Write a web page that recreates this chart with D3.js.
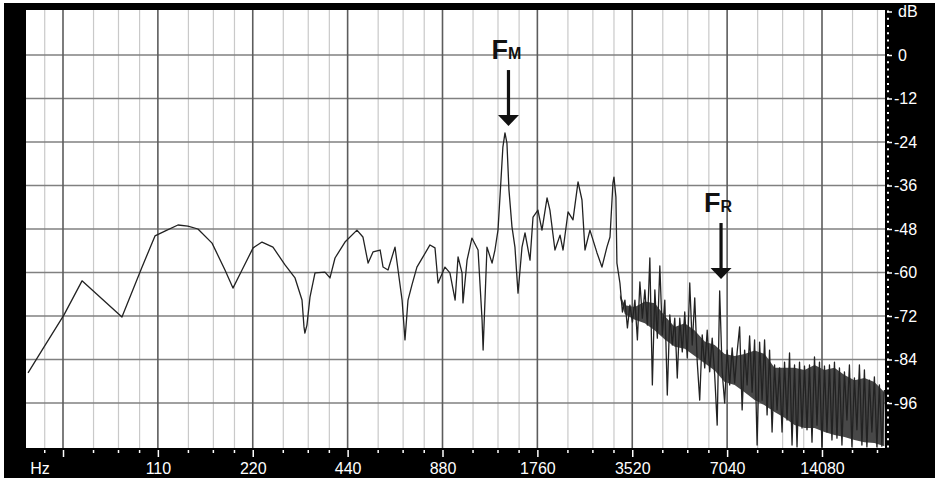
<!DOCTYPE html>
<html>
<head>
<meta charset="utf-8">
<title>Spectrum</title>
<script src="https://cdnjs.cloudflare.com/ajax/libs/d3/7.8.5/d3.min.js"></script>
<style>
  body { margin: 0; background: #fff; }
  svg { display: block; }
  .axis text { fill: #fff; font-family: "Liberation Sans", Arial, sans-serif; font-size: 16px; }
  .axis line { stroke: #fff; stroke-width: 1.5; }
  .axis path { display: none; }
  .note { font-family: "Liberation Sans", Arial, sans-serif; font-weight: bold; fill: #111; }
</style>
</head>
<body>
<div id="chart"></div>
<script>
// spectrum trace up to ~3 kHz (Hz, dB)
const freqHz = [42.6, 47.2, 55.4, 63.2, 84.6, 98, 107.7, 115.8, 127.4, 137, 147.4, 163.4, 179.6, 190.4, 203.4,
  220.6, 235.4, 255, 278.5, 299.6, 315.3, 319.9, 322, 326.9, 334.2, 346.7, 372.9, 386.8, 401.3, 431.6,
  471, 492, 511, 530, 558, 570, 591, 622, 636, 655, 669, 684, 704, 730, 763, 803, 833, 852,
  896, 929, 965, 986, 1015, 1022, 1053, 1091, 1141, 1175, 1184, 1218, 1264, 1291, 1320, 1349, 1368, 1389,
  1409, 1430, 1462, 1494, 1528, 1573, 1608, 1668, 1705, 1767, 1820, 1889, 1929, 2001, 2077, 2123, 2202,
  2283, 2369, 2438, 2492, 2584, 2721, 2821, 2925, 2992, 3057, 3080, 3124, 3147];
const levelDb = [-87.7, -81.4, -71.7, -62.3, -72.3, -58.5, -49.9, -48.6, -46.9, -47.2, -48.0, -51.9, -59.3, -64.3, -59.3,
  -53.2, -51.6, -53.0, -57.9, -61.5, -67.6, -75.0, -76.7, -74.5, -66.8, -60.1, -59.9, -61.5, -56.0, -51.6,
  -48.3, -50.2, -57.4, -54.3, -53.8, -58.5, -59.3, -53.0, -59.3, -67.6, -78.6, -67.6, -63.4, -58.5, -55.7, -52.4, -53.2, -62.9,
  -58.5, -60.1, -67.6, -55.7, -60.1, -68.4, -56.6, -50.5, -53.8, -73.1, -81.4, -53.0, -57.4, -53.8, -48.3, -34.5, -25.4, -21.5,
  -24.3, -37.2, -47.4, -53.0, -65.7, -53.0, -49.1, -56.6, -44.7, -42.8, -48.3, -39.4, -42.8, -53.8, -49.7, -53.8, -43.3,
  -45.5, -35.0, -40.0, -53.8, -48.3, -54.6, -58.5, -53.0, -50.2, -35.3, -33.7, -39.2, -57.4];

// noisy part above ~3.2 kHz, crest and trough of each wiggle
const denseHz = [3217, 3276, 3336, 3398, 3460, 3524, 3589, 3655, 3722, 3790, 3860, 3931, 4003, 4077, 4152,
  4228, 4306, 4385, 4465, 4547, 4631, 4716, 4803, 4891, 4981, 5073, 5166, 5261, 5358, 5456, 5557, 5659,
  5763, 5869, 5977, 6087, 6199, 6313, 6429, 6547, 6667, 6790, 6915, 7042, 7172, 7304, 7438, 7575, 7714,
  7856, 8000, 8147, 8297, 8450, 8605, 8764, 8925, 9089, 9256, 9427, 9600, 9777, 9957, 10140, 10326,
  10516, 10710, 10907, 11107, 11312, 11520, 11732, 11948, 12167, 12391, 12619, 12851, 13088, 13329,
  13574, 13824, 14078, 14337, 14601, 14870, 15143, 15422, 15706, 15995, 16289, 16589, 16894, 17205,
  17521, 17844, 18172, 18506, 18847, 19194, 19547, 19907, 20273, 20646, 21026, 21413, 21807, 22208];
const denseDb = [-62.9, -70.9, -67.6, -75.3, -69.0, -73.7, -67.6, -78.6, -62.6, -72.6, -64.8, -74.5, -56.0, -91.0, -64.8,
  -78.1, -58.2, -77.2, -67.6, -93.8, -71.7, -80.0, -72.6, -89.1, -72.6, -81.9, -70.9, -83.6, -62.9, -80.0, -67.0, -84.7,
  -95.2, -77.2, -86.3, -75.9, -87.4, -78.1, -88.3, -102.1, -65.1, -87.4, -96.0, -81.4, -91.0, -80.8, -90.5, -81.9, -75.0,
  -97.9, -81.4, -91.0, -77.5, -93.0, -78.6, -107.6, -79.2, -95.2, -78.6, -99.3, -81.4, -104.0, -85.5, -97.9, -86.3,
  -104.0, -84.7, -100.7, -82.2, -107.6, -85.5, -108.1, -84.7, -102.9, -85.8, -103.4, -85.5, -106.8, -83.3,
  -102.1, -84.7, -108.1, -85.8, -104.0, -85.5, -106.2, -84.7, -105.7, -86.3, -107.6, -87.4, -100.7, -85.5,
  -108.1, -89.1, -103.4, -85.5, -107.6, -86.9, -108.1, -89.7, -104.0, -88.8, -108.1, -91.0, -107.9, -92.4];

// dark mass inside the noisy part: upper and lower edge
const bandHz = [3217, 3336, 3589, 3860, 4152, 4465, 4803, 5166, 5557, 5977, 6429, 6915, 7438, 8000,
  8605, 9256, 9957, 10710, 11520, 12391, 13329, 14337, 15422, 16589, 17844, 19194, 20646, 22208];
const bandTopDb = [-66.0, -69.0, -69.5, -68.0, -68.5, -72.0, -75.0, -74.0, -76.0, -79.0, -80.0, -82.5, -83.0, -82.5,
  -81.5, -82.5, -86.3, -86.3, -86.3, -86.9, -85.5, -86.9, -86.3, -88.3, -89.7, -89.1, -90.2, -93.0];
const bandBotDb = [-67.0, -71.5, -73.0, -74.0, -76.0, -78.5, -80.5, -81.0, -83.0, -85.0, -87.0, -90.2, -91.0, -93.0,
  -95.2, -96.6, -98.5, -100.1, -102.1, -102.9, -102.9, -104.0, -104.8, -105.4, -106.2, -106.8, -107.0, -107.9];

const octaveHz = [55, 110, 220, 440, 880, 1760, 3520, 7040, 14080];
const octaveLabels = ["", "110", "220", "440", "880", "1760", "3520", "7040", "14080"];
const dbTicks = [12, 0, -12, -24, -36, -48, -60, -72, -84, -96];

const notes = [
  {main: "F", sub: "M", hz: 1425, db: -19.6},
  {main: "F", sub: "R", hz: 6734, db: -61.8}
];

const width = 938, height = 478;
const plot = {left: 26, right: 885, top: 10, bottom: 448};

const x = d3.scaleLog().base(2).domain([55, 14080]).range([63, 822]);
const y = d3.scaleLinear().domain([0, -96]).range([55, 403]);

const svg = d3.select("#chart").append("svg")
  .attr("width", width)
  .attr("height", height);

// black instrument frame and white plot window
svg.append("rect").attr("x", 4).attr("y", 3).attr("width", 931).attr("height", height - 3).attr("fill", "#000");
svg.append("rect")
  .attr("x", plot.left).attr("y", plot.top)
  .attr("width", plot.right - plot.left).attr("height", plot.bottom - plot.top)
  .attr("fill", "#fff");

svg.append("clipPath").attr("id", "clip")
  .append("rect")
  .attr("x", plot.left).attr("y", plot.top)
  .attr("width", plot.right - plot.left).attr("height", plot.bottom - plot.top);

// minor frequency lines at 1.25, 1.5, 1.75 of each octave
const minorHz = [];
[27.5].concat(octaveHz).forEach(f => {
  [1.25, 1.5, 1.75].forEach(m => {
    const v = f * m;
    if (x(v) > plot.left + 1 && x(v) < plot.right - 1) minorHz.push(v);
  });
});

const grid = svg.append("g").attr("clip-path", "url(#clip)");
grid.selectAll(".minor").data(minorHz).join("line")
  .attr("x1", d => x(d)).attr("x2", d => x(d))
  .attr("y1", plot.top).attr("y2", plot.bottom)
  .attr("stroke", "#c9c9c9").attr("stroke-width", 1.2);
grid.selectAll(".hline").data(dbTicks.filter(d => d < 12)).join("line")
  .attr("x1", plot.left).attr("x2", plot.right)
  .attr("y1", d => y(d)).attr("y2", d => y(d))
  .attr("stroke", "#808080").attr("stroke-width", 1.6);
grid.selectAll(".major").data(octaveHz).join("line")
  .attr("x1", d => x(d)).attr("x2", d => x(d))
  .attr("y1", plot.top).attr("y2", plot.bottom)
  .attr("stroke", "#5c5c5c").attr("stroke-width", 1.6);

// spectrum
const marks = svg.append("g").attr("clip-path", "url(#clip)");
const band = d3.area()
  .x((d, i) => x(bandHz[i]))
  .y0((d, i) => y(bandBotDb[i]))
  .y1((d, i) => y(bandTopDb[i]));
marks.append("path")
  .attr("d", band(bandHz))
  .attr("fill", "#484848");

const allHz = freqHz.concat(denseHz);
const allDb = levelDb.concat(denseDb);
const trace = d3.line()
  .x((d, i) => x(allHz[i]))
  .y((d, i) => y(allDb[i]));
marks.append("path")
  .attr("d", trace(allHz))
  .attr("fill", "none")
  .attr("stroke", "#222")
  .attr("stroke-width", 1.3)
  .attr("stroke-linejoin", "round");

// bottom axis
svg.append("g").attr("class", "axis")
  .attr("transform", `translate(0,${plot.bottom + 2})`)
  .call(d3.axisBottom(x).tickValues(octaveHz).tickSize(7).tickPadding(6)
    .tickFormat((d, i) => octaveLabels[i]));
svg.append("g").selectAll("line").data(minorHz).join("line")
  .attr("x1", d => x(d)).attr("x2", d => x(d))
  .attr("y1", plot.bottom + 2).attr("y2", plot.bottom + 5)
  .attr("stroke", "#fff").attr("stroke-width", 1.5);
svg.append("text")
  .attr("x", 40).attr("y", 474)
  .attr("text-anchor", "middle")
  .attr("fill", "#fff")
  .style("font-family", "'Liberation Sans', Arial, sans-serif")
  .style("font-size", "16px")
  .text("Hz");

// right axis
const dotDb = d3.range(12, -109, -2);
svg.append("g").selectAll("rect").data(dotDb).join("rect")
  .attr("x", plot.right + 2).attr("y", d => y(d) - 1)
  .attr("width", 2).attr("height", 2)
  .attr("fill", "#fff");
const yAxis = svg.append("g").attr("class", "axis")
  .attr("transform", `translate(${plot.right + 2},0)`)
  .call(d3.axisRight(y).tickValues(dbTicks).tickSize(5).tickPadding(2)
    .tickFormat(d => d === 12 ? "dB" : String(d)));
yAxis.selectAll("text").attr("x", d => d < 0 ? 7 : 11);

// annotations
const ann = svg.append("g");
notes.forEach(n => {
  const tx = x(n.hz), ty = y(n.db);
  ann.append("rect")
    .attr("x", tx - 1.6).attr("y", ty - 56)
    .attr("width", 3.2).attr("height", 46)
    .attr("fill", "#111");
  ann.append("path")
    .attr("d", `M${tx - 10.5},${ty - 11}L${tx + 10.5},${ty - 11}L${tx},${ty}Z`)
    .attr("fill", "#111");
  const t = ann.append("text").attr("class", "note")
    .attr("x", tx - 17).attr("y", ty - 67);
  t.append("tspan").style("font-size", "27px").text(n.main);
  t.append("tspan").style("font-size", "16px").text(n.sub);
});
</script>
</body>
</html>
